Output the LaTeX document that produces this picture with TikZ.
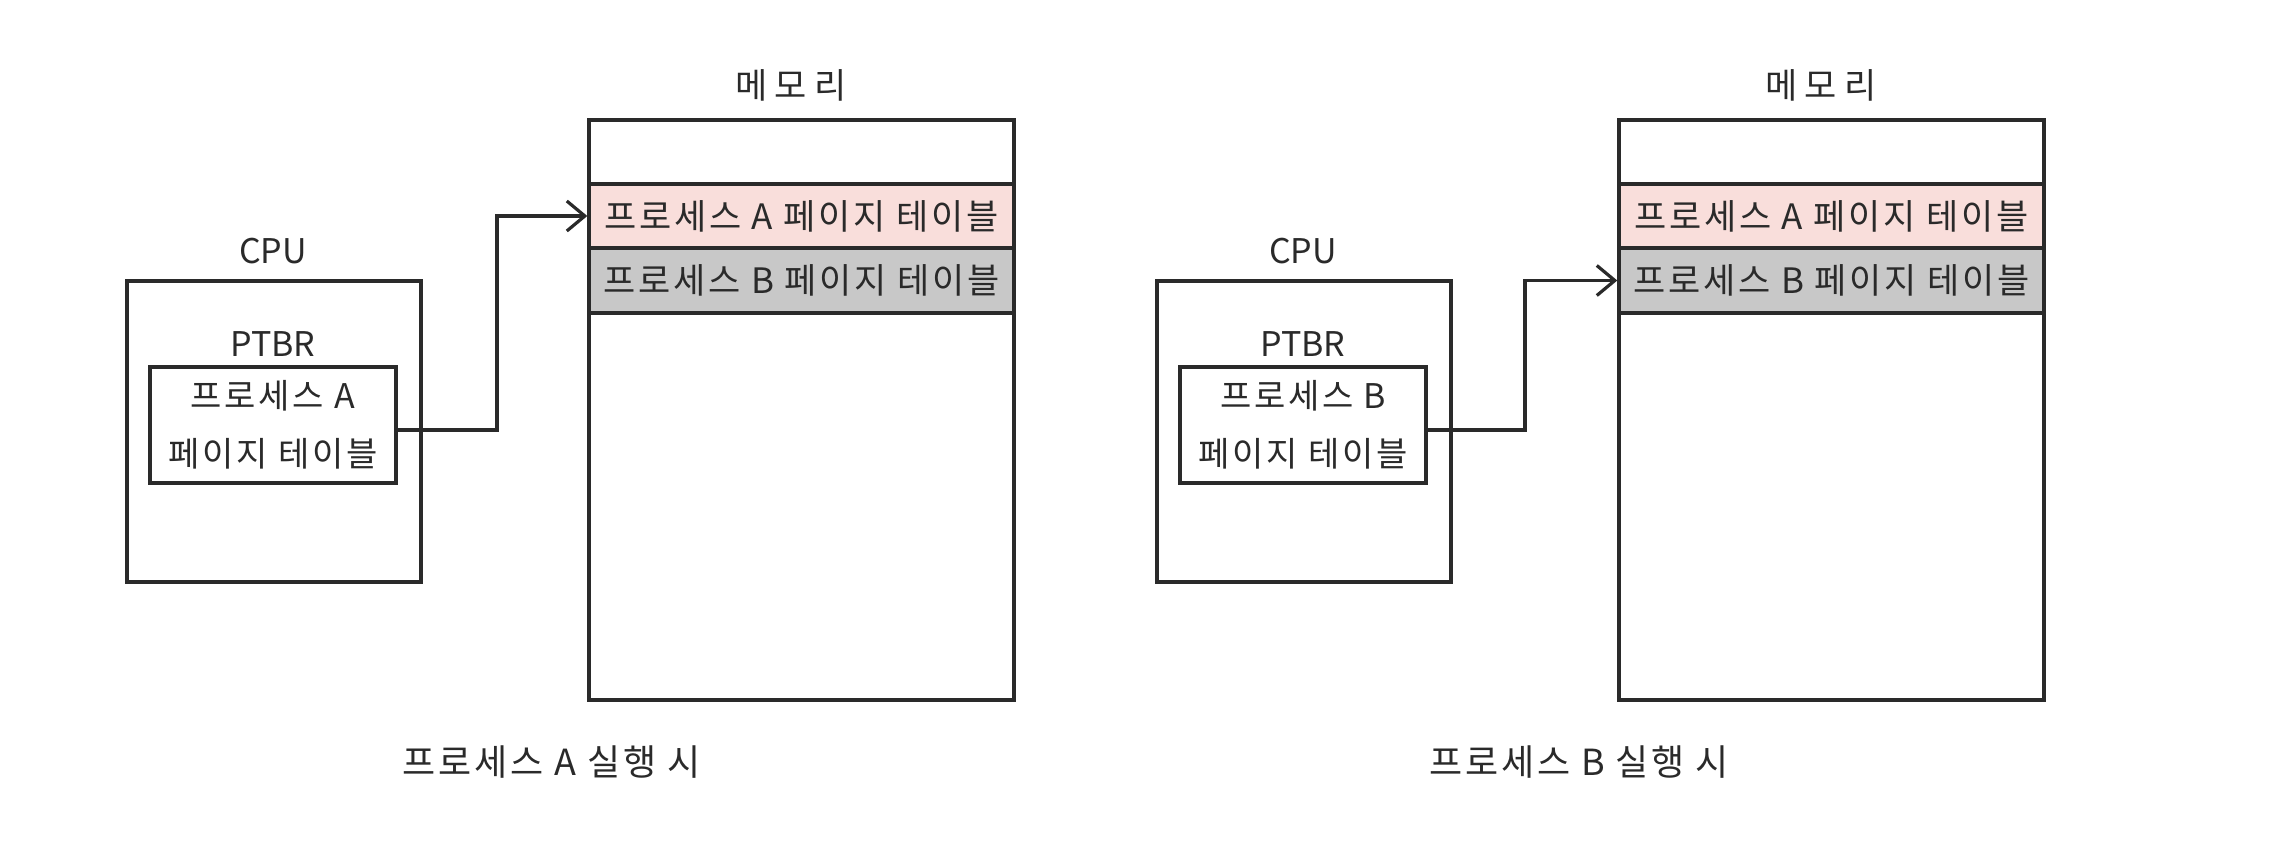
\documentclass[tikz,border=0pt]{standalone}
\usepackage{fontspec}
\setmainfont{Noto Sans CJK KR}
\newfontfamily\spaced[LetterSpace=8]{Noto Sans CJK KR}
\newfontfamily\wide[LetterSpace=22]{Noto Sans CJK KR}
\usetikzlibrary{arrows.meta,calc}
\definecolor{ink}{HTML}{2A2A2A}
\definecolor{pinkrow}{HTML}{F9DEDB}
\definecolor{grayrow}{HTML}{C8C8C8}
\tikzset{
  box/.style={draw=ink, line width=1.7pt, inner sep=0pt},
  lbl/.style={text=ink, font=\fontsize{17}{20}\selectfont, inner sep=0pt},
  rowtxt/.style={text=ink, font=\spaced\fontsize{17.5}{20}\selectfont},
  captxt/.style={text=ink, font=\spaced\fontsize{18}{20}\selectfont, inner sep=0pt},
  memtxt/.style={text=ink, font=\wide\fontsize{17.5}{20}\selectfont, inner sep=0pt},
  conn/.style={draw=ink, line width=1.6pt, -{Straight Barb[length=9pt,width=15pt,line width=1.6pt]}},
}
\begin{document}
\begin{tikzpicture}[x=0.5pt,y=-0.5pt]
\useasboundingbox[fill=white] (0,0) rectangle (2276,867);
% ---------- left: process A ----------
\node[box, minimum width=212.5pt, minimum height=290pt] (memA) at (801.5,410) {};
\node[box, fill=pinkrow, minimum width=212.5pt, minimum height=32pt] (memA-a) at (801.5,216) {};
\node[box, fill=grayrow, minimum width=212.5pt, minimum height=32.5pt] (memA-b) at (801.5,280.5) {};
\node[rowtxt] (memA-at) at (memA-a.center) {프로세스 A 페이지 테이블};
\node[rowtxt] (memA-bt) at (memA-b.center) {프로세스 B 페이지 테이블};
\node[memtxt] (memA-l) at (791,85) {메모리};
\node[box, minimum width=147pt, minimum height=150.5pt] (cpuA) at (274,431.5) {};
\node[lbl] (cpuA-l) at (273,251) {CPU};
\node[lbl] (ptbrA-l) at (273,344) {PTBR};
\node[box, fill=white, minimum width=123pt, minimum height=58pt] (ptbrA) at (273,425) {};
\node[lbl, align=center, font=\spaced\fontsize{17}{29}\selectfont] (ptbrA-t) at (ptbrA.center) {프로세스 A\\페이지 테이블};
\node[captxt] (capA) at (552,762) {프로세스 A 실행 시};
\coordinate (bendA) at (497,0);
\draw[conn] ([yshift=-2.5pt]ptbrA.east) -| (bendA |- memA-a.west) -- (memA-a.west);
% ---------- right: process B ----------
\begin{scope}[xshift=515pt]
\node[box, minimum width=212.5pt, minimum height=290pt] (memB) at (801.5,410) {};
\node[box, fill=pinkrow, minimum width=212.5pt, minimum height=32pt] (memB-a) at (801.5,216) {};
\node[box, fill=grayrow, minimum width=212.5pt, minimum height=32.5pt] (memB-b) at (801.5,280.5) {};
\node[rowtxt] (memB-at) at (memB-a.center) {프로세스 A 페이지 테이블};
\node[rowtxt] (memB-bt) at (memB-b.center) {프로세스 B 페이지 테이블};
\node[memtxt] (memB-l) at (791,85) {메모리};
\node[box, minimum width=147pt, minimum height=150.5pt] (cpuB) at (274,431.5) {};
\node[lbl] (cpuB-l) at (273,251) {CPU};
\node[lbl] (ptbrB-l) at (273,344) {PTBR};
\node[box, fill=white, minimum width=123pt, minimum height=58pt] (ptbrB) at (273,425) {};
\node[lbl, align=center, font=\spaced\fontsize{17}{29}\selectfont] (ptbrB-t) at (ptbrB.center) {프로세스 B\\페이지 테이블};
\node[captxt] (capB) at (549,762) {프로세스 B 실행 시};
\coordinate (bendB) at (495,0);
\end{scope}
\draw[conn] ([yshift=-2.5pt]ptbrB.east) -| (bendB |- memB-b.west) -- (memB-b.west);
\end{tikzpicture}
\end{document}
